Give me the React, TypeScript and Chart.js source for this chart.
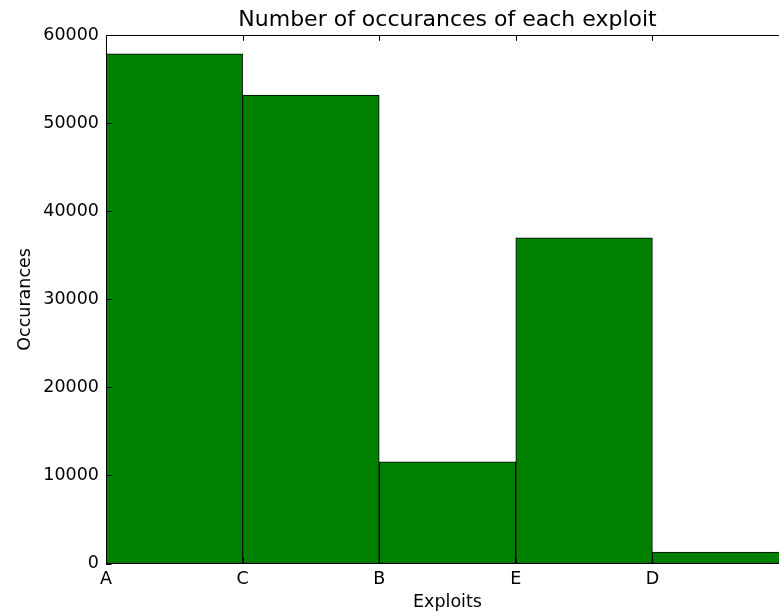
import React, { useEffect, useRef } from "react";
import { Chart, registerables } from "chart.js";

Chart.register(...registerables);

const categories = ["A", "C", "B", "E", "D"];
const occurrences = [57900, 53200, 11550, 37000, 1300];
const yTicks = [0, 10000, 20000, 30000, 40000, 50000, 60000];
const titleText = "Number of occurances of each exploit";
const xLabel = "Exploits";
const yLabel = "Occurances";

const FONT = "'DejaVu Sans', sans-serif";

const framePlugin = {
  id: "mplFrame",
  afterDatasetsDraw(chart: any) {
    const { ctx, chartArea } = chart;
    const { left, right, top, bottom } = chartArea;
    ctx.save();
    ctx.strokeStyle = "#000";
    ctx.lineWidth = 1;
    ctx.strokeRect(Math.round(left) + 0.5, Math.round(top) + 0.5, Math.round(right - left), Math.round(bottom - top));
    const len = 5.5;
    const xs = chart.scales.x;
    const ys = chart.scales.y;
    ctx.beginPath();
    for (let i = 0; i < categories.length; i++) {
      const px = Math.round(xs.getPixelForValue(i)) + 0.5;
      ctx.moveTo(px, bottom);
      ctx.lineTo(px, bottom - len);
      ctx.moveTo(px, top);
      ctx.lineTo(px, top + len);
    }
    for (const v of yTicks) {
      const py = Math.round(ys.getPixelForValue(v)) + 0.5;
      ctx.moveTo(left, py);
      ctx.lineTo(left + len, py);
    }
    ctx.stroke();
    ctx.restore();
  },
};

export default function App() {
  const ref = useRef<HTMLCanvasElement | null>(null);
  useEffect(() => {
    if (!ref.current) return;
    const chart = new Chart(ref.current, {
      type: "bar",
      data: {
        datasets: [
          {
            data: occurrences.map((v, i) => ({ x: i + 0.5, y: v })),
            backgroundColor: "#008000",
            borderColor: "#000000",
            borderWidth: 1,
            borderSkipped: false,
            barPercentage: 1,
            categoryPercentage: 1,
          },
        ],
      },
      options: {
        responsive: false,
        animation: false,
        devicePixelRatio: 1,
        layout: { padding: 0 },
        plugins: {
          legend: { display: false },
          tooltip: { enabled: false },
          title: {
            display: true,
            fullSize: false,
            text: titleText,
            color: "#000",
            font: { family: FONT, size: 22, weight: "normal" },
            padding: { top: 6.8, bottom: 2.1 },
          },
        },
        scales: {
          x: {
            type: "linear",
            min: 0,
            max: 5,
            offset: false,
            grid: { display: false, drawTicks: false },
            border: { display: false },
            afterBuildTicks: (scale: any) => {
              scale.ticks = categories.map((_, i) => ({ value: i }));
            },
            afterFit: (scale: any) => {
              scale.height = 49.5;
            },
            ticks: {
              autoSkip: false,
              maxRotation: 0,
              padding: 5,
              color: "#000",
              font: { family: FONT, size: 17.5 },
              callback: (v: any) => categories[Number(v)] ?? "",
            },
            title: {
              display: true,
              text: xLabel,
              color: "#000",
              font: { family: FONT, size: 17.5 },
              padding: { top: 0, bottom: 0 },
            },
          },
          y: {
            min: 0,
            max: 60000,
            grid: { display: false, drawTicks: false },
            border: { display: false },
            afterBuildTicks: (scale: any) => {
              scale.ticks = yTicks.map((v) => ({ value: v }));
            },
            afterFit: (scale: any) => {
              scale.width = 106;
            },
            ticks: {
              padding: 7,
              color: "#000",
              font: { family: FONT, size: 17.5 },
              callback: (v: any) => String(v),
            },
            title: {
              display: true,
              text: yLabel,
              color: "#000",
              font: { family: FONT, size: 17.5 },
              padding: { top: 15, bottom: 0 },
            },
          },
        },
      },
      plugins: [framePlugin],
    } as any);
    return () => chart.destroy();
  }, []);
  return (
    <div
      style={{
        position: "absolute",
        left: 0,
        top: 0,
        width: 779,
        height: 613,
        overflow: "hidden",
        background: "#fff",
      }}
    >
      <canvas ref={ref} width={789} height={613} style={{ display: "block" }} />
    </div>
  );
}
